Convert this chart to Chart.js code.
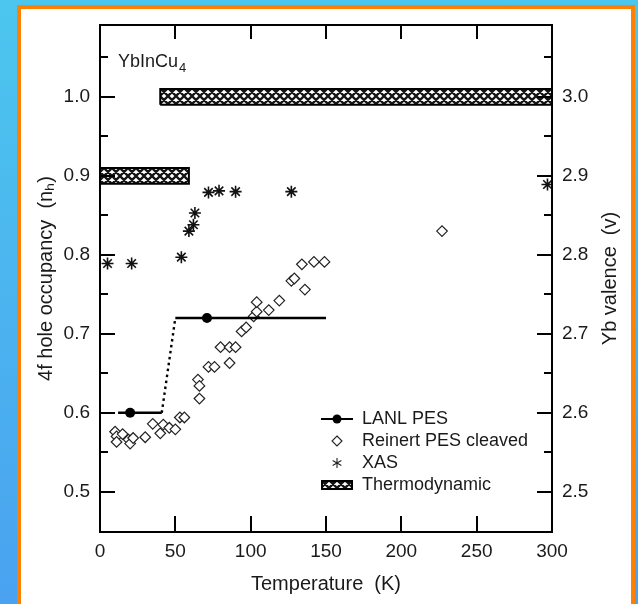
<!DOCTYPE html>
<html>
<head>
<meta charset="utf-8">
<script src="https://cdn.jsdelivr.net/npm/chart.js@4.4.1/dist/chart.umd.min.js"></script>
<style>
  html, body { margin: 0; padding: 0; }
  body { width: 638px; height: 604px; overflow: hidden; position: relative;
         background: linear-gradient(180deg, #4cc6ee 0%, #4aa2f0 100%); }
  #panel { position: absolute; left: 17px; top: 5px; width: 610px; height: 640px;
           background: #fff; border: 4px solid #ff8000; }
  #chart { position: absolute; left: 0; top: 0; }
</style>
</head>
<body>
<div id="panel"></div>
<canvas id="chart" width="638" height="604"></canvas>
<script>
// axis ranges
const tempMin = 0, tempMax = 300, tempStep = 50;
const occMin = 0.449, occMax = 1.091, occStep = 0.05;

// LANL PES (line with measured points)
const lanlT = [12, 20, 41, 50, 71, 150];
const lanlN = [0.60, 0.60, 0.60, 0.72, 0.72, 0.72];
const lanlMeasured = [false, true, false, false, true, false];

// Reinert PES cleaved
const reinertT = [10, 11, 11, 15, 19, 20, 22, 30, 35, 40, 42, 46, 50, 53, 56, 65, 66, 66, 72, 76,
  80, 86, 86, 90, 94, 97, 102, 104, 104, 112, 119, 127, 129, 134, 136, 142, 149, 227];
const reinertN = [0.576, 0.570, 0.563, 0.573, 0.566, 0.561, 0.568, 0.569, 0.586, 0.574,
  0.585, 0.581, 0.579, 0.594, 0.594, 0.642, 0.634, 0.618, 0.658, 0.658,
  0.683, 0.683, 0.663, 0.683, 0.703, 0.708, 0.722, 0.728, 0.740, 0.730,
  0.742, 0.767, 0.770, 0.788, 0.756, 0.791, 0.791, 0.830];

// XAS
const xasT = [5, 21, 54, 59, 62, 63, 72, 79, 90, 127, 297];
const xasN = [0.789, 0.789, 0.797, 0.830, 0.838, 0.853, 0.879, 0.881, 0.880, 0.880, 0.889];

// Thermodynamic bands: [T from, T to], [n low, n high]
const thermoT = [[40, 300], [0, 59]];
const thermoN = [[0.99, 1.01], [0.89, 0.91]];

const legendNames = ["LANL PES", "Reinert PES cleaved", "XAS", "Thermodynamic"];

const isMajor = v => Math.abs(v * 10 - Math.round(v * 10)) < 1e-6;
const FONT = "'Liberation Sans', Arial, sans-serif";
const INK = "#1a1a1a";

function mkCanvas(w, h) {
  const c = document.createElement("canvas");
  c.width = w; c.height = h;
  return c;
}

// crosshatch used by the thermodynamic bands
function hatchPattern() {
  const c = mkCanvas(8, 8), g = c.getContext("2d");
  g.fillStyle = "#fff"; g.fillRect(0, 0, 8, 8);
  g.strokeStyle = "#151515"; g.lineWidth = 2.3;
  g.beginPath();
  [-8, 0, 8].forEach(d => {
    g.moveTo(d, 0); g.lineTo(d + 8, 8);
    g.moveTo(d + 8, 0); g.lineTo(d, 8);
  });
  g.stroke();
  return g.createPattern(c, "repeat");
}
const hatch = hatchPattern();

// legend icons
const iconLanl = (() => {
  const c = mkCanvas(32, 12), g = c.getContext("2d");
  g.strokeStyle = "#000"; g.lineWidth = 2;
  g.beginPath(); g.moveTo(0, 6); g.lineTo(32, 6); g.stroke();
  g.fillStyle = "#000"; g.beginPath(); g.arc(16, 6, 4.5, 0, Math.PI * 2); g.fill();
  return c;
})();
const iconDiamond = (() => {
  const c = mkCanvas(14, 14), g = c.getContext("2d");
  g.strokeStyle = "#222"; g.lineWidth = 1.1;
  g.beginPath(); g.moveTo(7, 2); g.lineTo(12, 7); g.lineTo(7, 12); g.lineTo(2, 7); g.closePath();
  g.stroke();
  return c;
})();
const iconStar = (() => {
  const c = mkCanvas(14, 14), g = c.getContext("2d");
  g.strokeStyle = "#222"; g.lineWidth = 1.1;
  g.beginPath();
  for (let k = 0; k < 3; k++) {
    const a = Math.PI / 2 + k * Math.PI / 3;
    g.moveTo(7 + 5 * Math.cos(a), 7 + 5 * Math.sin(a));
    g.lineTo(7 - 5 * Math.cos(a), 7 - 5 * Math.sin(a));
  }
  g.stroke();
  return c;
})();
const iconHatch = (() => {
  const c = mkCanvas(32, 10), g = c.getContext("2d");
  g.fillStyle = hatch; g.fillRect(0, 0, 32, 10);
  g.strokeStyle = "#000"; g.lineWidth = 2; g.strokeRect(1, 1, 30, 8);
  return c;
})();
const legendIcons = [iconLanl, iconDiamond, iconStar, iconHatch];

const pts = (xs, ys) => xs.map((x, i) => ({ x, y: ys[i] }));
const bandPts = i => {
  const [t0, t1] = thermoT[i], [n0, n1] = thermoN[i];
  return [{ x: t0, y: n0 }, { x: t0, y: n1 }, { x: t1, y: n1 }, { x: t1, y: n0 }, { x: t0, y: n0 }];
};

// frame, inward ticks, inline labels
const frameTicks = {
  id: "frameTicks",
  afterDraw(chart) {
    const { ctx, chartArea: a, scales } = chart;
    ctx.save();
    ctx.strokeStyle = "#000";
    ctx.lineWidth = 2;
    ctx.strokeRect(a.left, a.top, a.right - a.left, a.bottom - a.top);
    ctx.beginPath();
    scales.x.ticks.forEach(t => {
      if (t.value <= tempMin || t.value >= tempMax) return;
      const px = Math.round(scales.x.getPixelForValue(t.value));
      ctx.moveTo(px, a.bottom); ctx.lineTo(px, a.bottom - 16);
      ctx.moveTo(px, a.top); ctx.lineTo(px, a.top + 14);
    });
    [["y", a.left, 1], ["y2", a.right, -1]].forEach(([id, x0, dir]) => {
      scales[id].ticks.forEach(t => {
        const py = Math.round(scales[id].getPixelForValue(t.value));
        if (py > a.bottom - 3 || py < a.top + 3) return;
        const len = isMajor(t.value) ? 15 : 8;
        ctx.moveTo(x0, py); ctx.lineTo(x0 + dir * len, py);
      });
    });
    ctx.stroke();

    ctx.fillStyle = INK;
    ctx.textBaseline = "middle";
    // compound label
    ctx.font = "18px " + FONT;
    ctx.textAlign = "left";
    const lx = 118, ly = 62;
    ctx.fillText("YbInCu", lx, ly);
    const w = ctx.measureText("YbInCu").width;
    ctx.font = "13px " + FONT;
    ctx.fillText("4", lx + w + 1, ly + 6);
    // right axis title, reading upward
    ctx.font = "20px " + FONT;
    ctx.textAlign = "center";
    ctx.translate(610, (a.top + a.bottom) / 2);
    ctx.rotate(-Math.PI / 2);
    ctx.fillText("Yb valence  (v)", 0, 0);
    ctx.restore();
  },
  afterLayout(chart) {
    const lg = chart.legend;
    if (!lg) return;
    const w = lg.width, h = lg.height;
    lg.left = 317; lg.top = 406;
    lg.right = lg.left + w; lg.bottom = lg.top + h;
  }
};

new Chart(document.getElementById("chart"), {
  type: "scatter",
  data: {
    datasets: [
      {
        type: "line",
        label: legendNames[0],
        data: pts(lanlT, lanlN),
        borderColor: "#000",
        borderWidth: 2.4,
        backgroundColor: "#000",
        pointBackgroundColor: "#000",
        pointBorderWidth: 0,
        pointRadius: ctx => (lanlMeasured[ctx.dataIndex] ? 5 : 0),
        fill: false,
        tension: 0,
        segment: { borderDash: ctx => (ctx.p0DataIndex === 2 ? [2.5, 3.5] : undefined) }
      },
      {
        label: legendNames[1],
        data: pts(reinertT, reinertN),
        pointStyle: "rectRot",
        pointRadius: 5.3,
        borderColor: "#222",
        borderWidth: 1.2,
        backgroundColor: "#fff"
      },
      {
        label: legendNames[2],
        data: pts(xasT, xasN),
        pointStyle: "star",
        pointRadius: 6,
        borderColor: "#111",
        borderWidth: 1.6,
        backgroundColor: "#111"
      },
      {
        type: "line",
        label: legendNames[3],
        data: bandPts(0),
        borderColor: "#000",
        borderWidth: 2,
        backgroundColor: hatch,
        pointRadius: 0,
        fill: "shape",
        tension: 0
      },
      {
        type: "line",
        label: legendNames[3],
        data: bandPts(1),
        borderColor: "#000",
        borderWidth: 2,
        backgroundColor: hatch,
        pointRadius: 0,
        fill: "shape",
        tension: 0
      }
    ]
  },
  options: {
    responsive: false,
    animation: false,
    events: [],
    layout: { padding: { top: 25, left: 0, right: 0, bottom: 0 } },
    plugins: {
      tooltip: { enabled: false },
      legend: {
        position: "chartArea",
        align: "start",
        labels: {
          usePointStyle: true,
          pointStyleWidth: 32,
          padding: 4,
          color: INK,
          font: { family: FONT, size: 18 },
          generateLabels: () => legendNames.map((text, i) => ({
            text,
            pointStyle: legendIcons[i],
            datasetIndex: i,
            hidden: false,
            lineWidth: 0,
            fillStyle: "#000",
            strokeStyle: "#000",
            fontColor: INK
          }))
        }
      }
    },
    scales: {
      x: {
        type: "linear",
        min: tempMin, max: tempMax,
        grid: { display: false, drawTicks: false },
        border: { display: false },
        ticks: { stepSize: tempStep, padding: 8, color: INK, font: { family: FONT, size: 19 } },
        title: { display: true, text: "Temperature  (K)", color: INK,
                 font: { family: FONT, size: 20 }, padding: { top: 0, bottom: 8 } },
        afterFit: s => { s.height = 72; }
      },
      y: {
        type: "linear",
        position: "left",
        min: occMin, max: occMax,
        grid: { display: false, drawTicks: false },
        border: { display: false },
        ticks: {
          stepSize: occStep, includeBounds: false, autoSkip: false, padding: 10,
          color: INK, font: { family: FONT, size: 19 },
          callback: v => (isMajor(v) && v > 0.49 && v < 1.01 ? v.toFixed(1) : "")
        },
        title: { display: true, text: "4f hole occupancy  (n\u2095)", color: INK,
                 font: { family: FONT, size: 20 }, padding: { top: 34, bottom: 0 } },
        afterFit: s => { s.width = 100; }
      },
      y2: {
        type: "linear",
        position: "right",
        min: occMin + 2, max: occMax + 2,
        grid: { display: false, drawTicks: false },
        border: { display: false },
        ticks: {
          stepSize: occStep, includeBounds: false, autoSkip: false, padding: 10,
          color: INK, font: { family: FONT, size: 19 },
          callback: v => (isMajor(v) && v > 2.49 && v < 3.01 ? v.toFixed(1) : "")
        },
        afterFit: s => { s.width = 86; }
      }
    }
  },
  plugins: [frameTicks]
});
</script>
</body>
</html>
